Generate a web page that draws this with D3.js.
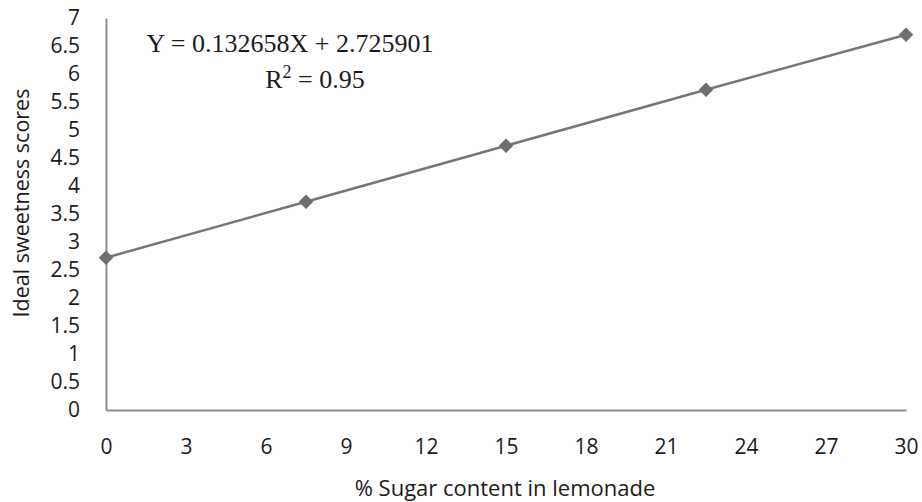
<!DOCTYPE html>
<head>
    <script src="https://d3js.org/d3.v7.min.js"></script>
    <style>
        body { margin: 0; background: #fff; }
        .tick text { font-family: "Open Sans", sans-serif; font-size: 21px; fill: #1e1a1b; }
    </style>
</head>
<body>
<svg width="922" height="502"></svg>
<script>
    // sugar % and ideal sweetness
    var sugar = [0, 7.5, 15, 22.5, 30];
    var sweetness = [2.72, 3.72, 4.72, 5.72, 6.70];
    var xTicks = [0, 3, 6, 9, 12, 15, 18, 21, 24, 27, 30];
    var yTicks = [0, 0.5, 1, 1.5, 2, 2.5, 3, 3.5, 4, 4.5, 5, 5.5, 6, 6.5, 7];

    var svg = d3.select("svg");

    var x = d3.scaleLinear().domain([0, 30]).range([106, 906]);
    var y = d3.scaleLinear().domain([0, 7]).range([410, 18]);

    //axes
    var gx = svg.append("g")
        .attr("transform", "translate(0,410)")
        .call(d3.axisBottom(x).tickValues(xTicks).tickSize(0).tickPadding(29).tickFormat(d3.format("d")));
    gx.select(".domain").attr("stroke", "#8d8d8f").attr("stroke-width", 2);

    var gy = svg.append("g")
        .attr("transform", "translate(106,0)")
        .call(d3.axisLeft(y).tickValues(yTicks).tickSize(0).tickPadding(26).tickFormat(d3.format("")));
    gy.select(".domain").attr("stroke", "#8d8d8f").attr("stroke-width", 2);

    //line + markers
    var line = d3.line()
        .x(function(d, i) { return x(sugar[i]); })
        .y(function(d) { return y(d); });

    svg.append("path")
        .datum(sweetness)
        .attr("fill", "none")
        .attr("stroke", "#767676")
        .attr("stroke-width", 2.5)
        .attr("d", line);

    svg.append("g")
        .selectAll("path")
        .data(sweetness)
        .enter().append("path")
        .attr("d", d3.symbol().type(d3.symbolDiamond2).size(135))
        .attr("transform", function(d, i) { return "translate(" + x(sugar[i]) + "," + y(d) + ")"; })
        .attr("fill", "#6f6f71");

    //axis titles
    svg.append("text")
        .attr("x", 505)
        .attr("y", 496)
        .attr("text-anchor", "middle")
        .attr("font-family", "Open Sans, sans-serif")
        .attr("font-size", 22)
        .attr("fill", "#1e1a1b")
        .text("% Sugar content in lemonade");

    svg.append("text")
        .attr("transform", "translate(29,203) rotate(-90)")
        .attr("text-anchor", "middle")
        .attr("font-family", "Open Sans, sans-serif")
        .attr("font-size", 21.5)
        .attr("fill", "#1e1a1b")
        .text("Ideal sweetness scores");

    //regression equation
    svg.append("text")
        .attr("x", 290)
        .attr("y", 52)
        .attr("text-anchor", "middle")
        .attr("font-family", "Liberation Serif, serif")
        .attr("font-size", 26)
        .attr("fill", "#1e1a1b")
        .text("Y = 0.132658X + 2.725901");

    var r2 = svg.append("text")
        .attr("x", 315)
        .attr("y", 88)
        .attr("text-anchor", "middle")
        .attr("font-family", "Liberation Serif, serif")
        .attr("font-size", 26)
        .attr("fill", "#1e1a1b");
    r2.append("tspan").text("R");
    r2.append("tspan").attr("dy", -10).attr("font-size", 18).text("2");
    r2.append("tspan").attr("dy", 10).text(" = 0.95");
</script>
</body>
